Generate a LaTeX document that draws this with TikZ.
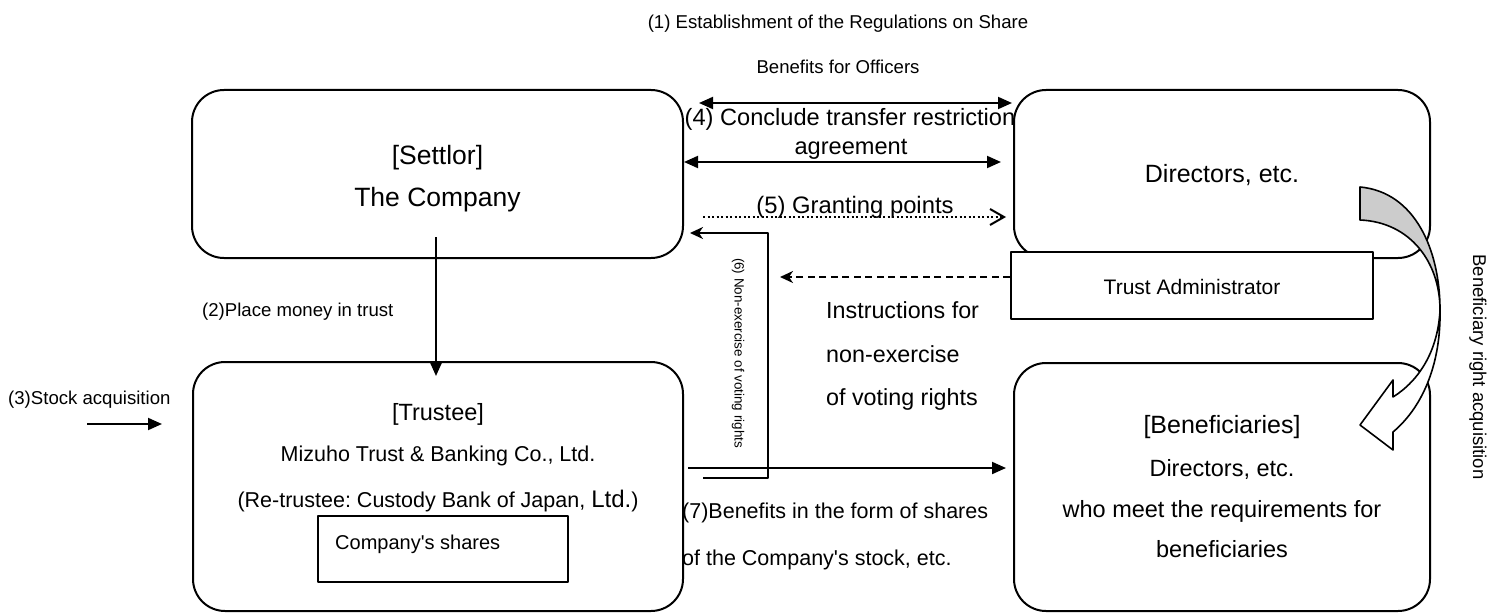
\documentclass[tikz,border=0pt]{standalone}
\usepackage{fontspec}
\setmainfont{Liberation Sans}
\usetikzlibrary{arrows.meta}
\newcommand{\fsz}[1]{\fontsize{#1}{#1}\selectfont}
\newcommand{\sq}{\XeTeXglyph\XeTeXcharglyph"27\relax}
\frenchspacing
\begin{document}
\begin{tikzpicture}[x=1pt,y=-1pt,line join=round,
  rbox/.style={draw,line width=2pt,rounded corners=32pt,inner sep=0pt},
  sbox/.style={draw,line width=2pt,fill=white,inner sep=0pt},
  lbl/.style={inner sep=0pt,anchor=base},
  lblw/.style={inner sep=0pt,anchor=base west},
  conn/.style={line width=2pt},
  tri/.style={-{Triangle[length=14pt,width=12pt]}},
  dtri/.style={{Triangle[length=14pt,width=12pt]}-{Triangle[length=14pt,width=12pt]}},
  stl/.style={-{Stealth[length=13pt,width=12pt,inset=4pt]}},
  barb/.style={-{Straight Barb[length=14pt,width=16pt,line width=2pt]}},
]
\useasboundingbox (0,0) rectangle (1490,615);

% boxes
\node[rbox,minimum width=491pt,minimum height=168pt] (settlor) at (437.5,174) {};
\node[rbox,minimum width=416pt,minimum height=168pt] (directors) at (1222,174) {};
\node[rbox,minimum width=490pt,minimum height=249pt] (trustee) at (438,486.5) {};
\node[rbox,minimum width=416pt,minimum height=248pt] (benef) at (1222,487) {};
\node[sbox,minimum width=362pt,minimum height=67pt] (tadmin) at (1192,285.5) {};
\node[sbox,minimum width=250pt,minimum height=66pt] (shares) at (443,549) {};

% box texts
\node[lbl,font=\fsz{26.5}] (settlorA) at (437.5,164) {[Settlor]};
\node[lbl,font=\fsz{26.5}] (settlorB) at (437.5,206) {The Company};
\node[lbl,font=\fsz{25}] (dirA) at (1222,182) {Directors, etc.};
\node[lbl,font=\fsz{21}] (tadminT) at (1192,294) {Trust Administrator};
\node[lbl,font=\fsz{23.5}] (trA) at (438,420) {[Trustee]};
\node[lbl,font=\fsz{21.5}] (trB) at (438,461.5) {Mizuho Trust \& Banking Co., Ltd.};
\node[lbl,font=\fsz{21.5}] (trC) at (438,507.3) {(Re-trustee: Custody Bank of Japan, {\fsz{24}Ltd.})};
\node[lblw,font=\fsz{20}] (sharesT) at (335,549.3) {Company\sq s shares};
\node[lbl,font=\fsz{25}] (bnA) at (1222,433.3) {[Beneficiaries]};
\node[lbl,font=\fsz{23.5}] (bnB) at (1222,476) {Directors, etc.};
\node[lbl,font=\fsz{23.5}] (bnC) at (1222,517) {who meet the requirements for};
\node[lbl,font=\fsz{23.5}] (bnD) at (1222,557) {beneficiaries};

% free labels
\node[lbl,font=\fsz{18.6}] (l1a) at (838,28.3) {(1) Establishment of the Regulations on Share};
\node[lbl,font=\fsz{18.6}] (l1b) at (838,73.3) {Benefits for Officers};
\node[lbl,font=\fsz{23.6}] (l4a) at (850,125) {(4) Conclude transfer restriction};
\node[lbl,font=\fsz{23.6}] (l4b) at (851,154) {agreement};
\node[lbl,font=\fsz{23.8}] (l5) at (855,213.3) {(5) Granting points};
\node[lblw,font=\fsz{18.6}] (l2) at (202,316.7) {(2)Place money in trust};
\node[lblw,font=\fsz{18.6}] (l3) at (8,404.7) {(3)Stock acquisition};
\node[lblw,font=\fsz{23.3}] (inA) at (826,318) {Instructions for};
\node[lblw,font=\fsz{23.3}] (inB) at (826,362) {non-exercise};
\node[lblw,font=\fsz{23.3}] (inC) at (826,405) {of voting rights};
\node[lblw,font=\fsz{21.5}] (l7a) at (682,518.3) {(7)Benefits in the form of shares};
\node[lblw,font=\fsz{21.5}] (l7b) at (682,565) {of the Company\sq s stock, etc.};
\node[inner sep=0pt,rotate=-90,font=\fsz{13.4}] (l6) at (738,353) {(6) Non-exercise of voting rights};
\node[inner sep=0pt,rotate=-90,font=\fsz{18.5}] (lbr) at (1478,367) {Beneficiary right acquisition};

% connector end points
\coordinate (c1a) at (699,103);
\coordinate (c1b) at (1012,103);
\coordinate (c4a) at (684,162);
\coordinate (c4b) at (1001,162);
\coordinate (c5a) at (703,217);
\coordinate (c5b) at (1006,217);
\coordinate (c6a) at (703,478);
\coordinate (c6b) at (768,478);
\coordinate (c6c) at (768,233);
\coordinate (c6d) at (690,233);
\coordinate (cda) at (1010,277);
\coordinate (cdb) at (780,277);
\coordinate (c7a) at (688,468);
\coordinate (c7b) at (1006,468);
\coordinate (c2a) at (436,237);
\coordinate (c2b) at (436,376);
\coordinate (c3a) at (87,424);
\coordinate (c3b) at (162,424);

% connectors
\draw[conn,dtri] (c1a) -- (c1b);
\draw[conn,dtri] (c4a) -- (c4b);
\draw[conn,barb,dash pattern=on 2pt off 2.5pt] (c5a) -- (c5b);
\draw[conn,stl] (c6a) -- (c6b) -- (c6c) -- (c6d);
\draw[conn,stl,dash pattern=on 7pt off 4.5pt] (cda) -- (cdb);
\draw[conn,tri] (c7a) -- (c7b);
\draw[conn,tri] (c2a) -- (c2b);
\draw[conn,tri] (c3a) -- (c3b);

% curved block arrow
\draw[line width=1.6pt,fill=gray!40]
  (1360,187) .. controls (1415,192) and (1440,250) .. (1440,310)
  .. controls (1440,262) and (1410,222) .. (1360,220) -- cycle;
\draw[line width=1.6pt,fill=white]
  (1440,310) .. controls (1441,360) and (1425,405) .. (1393,432)
  -- (1393,450) -- (1360,425) -- (1393,380) -- (1393,397)
  .. controls (1420,380) and (1438,350) .. (1440,310) -- cycle;
\end{tikzpicture}
\end{document}
